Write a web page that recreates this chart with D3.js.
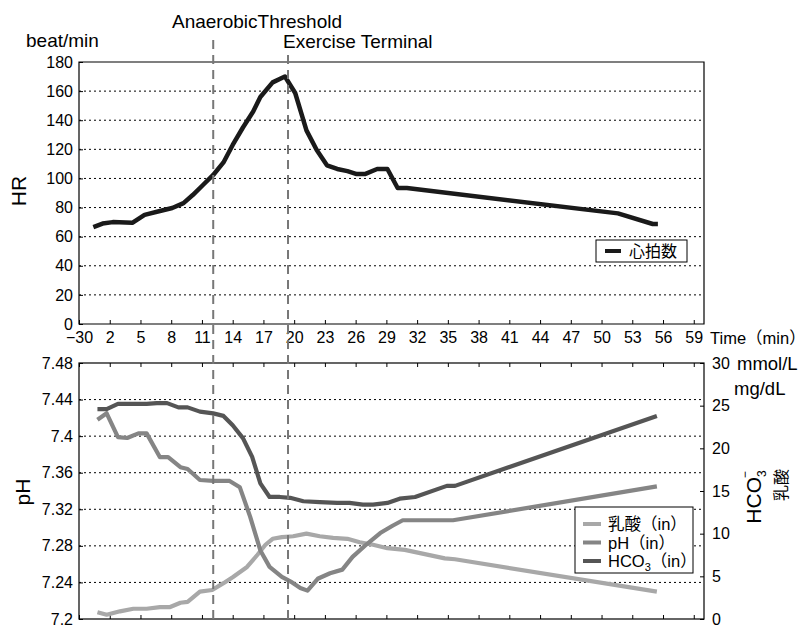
<!DOCTYPE html>
<meta charset="utf-8">
<script src="https://d3js.org/d3.v7.min.js"></script>
<style>
  body { margin: 0; background: #fff; }
  text { font-family: "Liberation Sans", Arial, "Noto Sans CJK JP", sans-serif; fill: #000; }
  .cjk { font-family: "Liberation Sans", "Noto Sans CJK JP", sans-serif; }
</style>
<div id="chart"></div>
<script>

// ---- data ----
var xTicks = [-1, 2, 5, 8, 11, 14, 17, 20, 23, 26, 29, 32, 35, 38, 41, 44, 47, 50, 53, 56, 59];
var xTickLabels = ["\u221230", "2", "5", "8", "11", "14", "17", "20", "23", "26", "29", "32", "35", "38", "41", "44", "47", "50", "53", "56", "59"];
var hrTicks = [0, 20, 40, 60, 80, 100, 120, 140, 160, 180];
var phTicks = [7.2, 7.24, 7.28, 7.32, 7.36, 7.4, 7.44, 7.48];
var rightTicks = [0, 5, 10, 15, 20, 25, 30];

var atTime = 12.1;   // anaerobic threshold
var etTime = 19.4;   // exercise terminal

var hrTime  = [0.4, 1.3, 2.3, 4.2, 5.4, 6.9, 8.1, 9.2, 10.1, 11.1, 12.1, 13.1, 14.0, 15.0, 16.0, 16.7, 17.9, 19.1, 20.1, 21.2, 22.2, 23.2, 24.2, 25.2, 26.1, 26.9, 28.1, 29.1, 30.1, 31.0, 51.6, 55.0, 55.5];
var hrValue = [66.6, 69, 70, 69.5, 75, 77.6, 79.7, 83, 88.6, 95.5, 102.4, 111, 123, 135, 146, 156, 166, 170, 158.7, 133, 119.5, 109, 106.5, 105, 103, 103, 106.5, 106.5, 93.4, 93.4, 76, 68.7, 68.7];

var phTime  = [0.8, 1.7, 2.8, 3.7, 4.8, 5.6, 6.9, 7.7, 8.9, 9.6, 10.8, 12.1, 13.7, 14.7, 15.7, 16.7, 17.6, 18.8, 19.8, 20.6, 21.3, 22.3, 23.5, 24.7, 25.7, 27.1, 28.4, 29.6, 30.6, 35.5, 55.4];
var phValue = [7.418, 7.425, 7.399, 7.398, 7.403, 7.403, 7.377, 7.377, 7.366, 7.364, 7.352, 7.351, 7.351, 7.344, 7.312, 7.275, 7.257, 7.246, 7.240, 7.234, 7.231, 7.244, 7.250, 7.254, 7.268, 7.282, 7.294, 7.302, 7.308, 7.308, 7.345];

var hco3Time  = [0.8, 1.7, 2.8, 4.3, 5.6, 6.6, 7.6, 8.7, 9.6, 10.8, 12.1, 13.1, 14.0, 15.0, 15.9, 16.7, 17.6, 18.6, 19.6, 20.9, 22.5, 24.2, 25.4, 26.7, 27.7, 29.1, 30.3, 31.8, 34.9, 35.7, 55.4];
var hco3Value = [24.6, 24.6, 25.2, 25.2, 25.2, 25.3, 25.3, 24.8, 24.8, 24.3, 24.1, 23.8, 22.7, 21.2, 19.0, 15.9, 14.3, 14.3, 14.2, 13.8, 13.7, 13.6, 13.6, 13.4, 13.4, 13.6, 14.1, 14.3, 15.6, 15.6, 23.8];

var lacTime  = [0.8, 1.7, 3.0, 4.3, 5.6, 6.9, 7.9, 8.9, 9.6, 10.8, 12.0, 13.1, 14.0, 15.4, 16.4, 17.2, 17.9, 18.8, 19.9, 21.2, 22.5, 23.8, 25.2, 26.4, 27.7, 29.1, 30.8, 34.7, 35.7, 55.4];
var lacValue = [0.8, 0.5, 0.9, 1.2, 1.2, 1.4, 1.4, 1.9, 2.0, 3.2, 3.4, 4.2, 4.9, 6.1, 7.5, 8.7, 9.4, 9.6, 9.7, 10.0, 9.7, 9.5, 9.4, 9.0, 8.7, 8.3, 8.1, 7.1, 7.0, 3.2];

var seriesNames = ["乳酸（in）", "pH（in）", "HCO3（in）"];
var colHR = "#1a1a1a", colLac = "#a8a8a8", colPH = "#858585", colHCO3 = "#555555";

// ---- layout ----
var svg = d3.select("#chart").append("svg")
    .attr("width", 806).attr("height", 625);

var x = d3.scaleLinear().domain([-1, 60]).range([79, 704]);
var yHR = d3.scaleLinear().domain([0, 180]).range([324, 62]);
var yPH = d3.scaleLinear().domain([7.2, 7.48]).range([619, 363]);
var yR  = d3.scaleLinear().domain([0, 30]).range([619, 363]);

function zip(t, v) { return t.map(function(d, i) { return [d, v[i]]; }); }

// ---- top panel ----
var gTop = svg.append("g");

gTop.selectAll(".gridHR").data(hrTicks.filter(function(d){ return d > 0 && d < 180; }))
  .enter().append("line")
    .attr("x1", x(-1)).attr("x2", x(60))
    .attr("y1", function(d){ return yHR(d); }).attr("y2", function(d){ return yHR(d); })
    .attr("stroke", "#000").attr("stroke-width", 1).attr("stroke-dasharray", "2,3");

gTop.append("g")
    .attr("transform", "translate(0," + yHR(0) + ")")
    .call(d3.axisBottom(x).tickValues(xTicks).tickSizeInner(-4).tickSizeOuter(0).tickPadding(8)
      .tickFormat(function(d, i){ return xTickLabels[i]; }));
gTop.append("g")
    .attr("transform", "translate(" + x(-1) + ",0)")
    .call(d3.axisLeft(yHR).tickValues(hrTicks).tickSizeInner(-4).tickSizeOuter(0).tickPadding(6));

// box border
gTop.append("path")
  .attr("d", "M" + x(-1) + "," + yHR(180) + "H" + x(60) + "V" + yHR(0) + "H" + x(-1) + "Z")
  .attr("fill", "none").attr("stroke", "#000").attr("stroke-width", 1.2);

gTop.append("path")
  .datum(zip(hrTime, hrValue))
  .attr("fill", "none").attr("stroke", colHR).attr("stroke-width", 4.5)
  .attr("stroke-linejoin", "round")
  .attr("d", d3.line().x(function(d){ return x(d[0]); }).y(function(d){ return yHR(d[1]); }));

// legend (top)
gTop.append("rect").attr("x", 596).attr("y", 240).attr("width", 91).attr("height", 22)
  .attr("fill", "#fff").attr("stroke", "#000").attr("stroke-width", 1);
gTop.append("line").attr("x1", 605).attr("x2", 621).attr("y1", 251).attr("y2", 251)
  .attr("stroke", colHR).attr("stroke-width", 4);
gTop.append("text").attr("class", "cjk").attr("x", 629).attr("y", 257)
  .style("font-size", "16px").text("心拍数");

// ---- bottom panel ----
var gBot = svg.append("g");

gBot.selectAll(".gridPH").data(phTicks.filter(function(d){ return d > 7.21 && d < 7.47; }))
  .enter().append("line")
    .attr("x1", x(-1)).attr("x2", x(60))
    .attr("y1", function(d){ return yPH(d); }).attr("y2", function(d){ return yPH(d); })
    .attr("stroke", "#000").attr("stroke-width", 1).attr("stroke-dasharray", "2,3");

gBot.append("g")
    .attr("transform", "translate(0," + yPH(7.48) + ")")
    .call(d3.axisTop(x).tickValues(xTicks).tickSizeInner(-4).tickSizeOuter(0).tickFormat(""));
gBot.append("g")
    .attr("transform", "translate(0," + yPH(7.2) + ")")
    .call(d3.axisBottom(x).tickValues(xTicks).tickSizeInner(-4).tickSizeOuter(0).tickFormat(""));
gBot.append("g")
    .attr("transform", "translate(" + x(-1) + ",0)")
    .call(d3.axisLeft(yPH).tickValues(phTicks).tickSizeInner(-4).tickSizeOuter(0).tickPadding(6)
      .tickFormat(function(d){ return String(+d.toFixed(2)); }));
gBot.append("g")
    .attr("transform", "translate(" + x(60) + ",0)")
    .call(d3.axisRight(yR).tickValues(rightTicks).tickSizeInner(-4).tickSizeOuter(0).tickPadding(8));

gBot.append("rect")
  .attr("x", x(-1)).attr("y", yPH(7.48)).attr("width", x(60) - x(-1)).attr("height", yPH(7.2) - yPH(7.48))
  .attr("fill", "none").attr("stroke", "#000").attr("stroke-width", 1.2);

var lineR = d3.line().x(function(d){ return x(d[0]); }).y(function(d){ return yR(d[1]); });
var linePH = d3.line().x(function(d){ return x(d[0]); }).y(function(d){ return yPH(d[1]); });

gBot.append("path").datum(zip(lacTime, lacValue))
  .attr("fill", "none").attr("stroke", colLac).attr("stroke-width", 4.2).attr("stroke-linejoin", "round")
  .attr("d", lineR);
gBot.append("path").datum(zip(phTime, phValue))
  .attr("fill", "none").attr("stroke", colPH).attr("stroke-width", 4.2).attr("stroke-linejoin", "round")
  .attr("d", linePH);
gBot.append("path").datum(zip(hco3Time, hco3Value))
  .attr("fill", "none").attr("stroke", colHCO3).attr("stroke-width", 4.2).attr("stroke-linejoin", "round")
  .attr("d", lineR);

// legend (bottom)
gBot.append("rect").attr("x", 575).attr("y", 507).attr("width", 118).attr("height", 66)
  .attr("fill", "#fff").attr("stroke", "#000").attr("stroke-width", 1);
var legCols = [colLac, colPH, colHCO3];
legCols.forEach(function(c, i) {
  var yy = 524 + i * 18.5;
  gBot.append("line").attr("x1", 583).attr("x2", 601).attr("y1", yy).attr("y2", yy)
    .attr("stroke", c).attr("stroke-width", 4);
  var t = gBot.append("text").attr("class", "cjk").attr("x", 608).attr("y", yy + 6).style("font-size", "16.5px");
  if (i === 2) {
    t.append("tspan").text("HCO");
    t.append("tspan").attr("dy", 4).style("font-size", "11px").text("3");
    t.append("tspan").attr("dy", -4).text("（in）");
  } else {
    t.text(seriesNames[i]);
  }
});

// ---- axis fonts ----
svg.selectAll(".tick text").style("font-size", "16px").attr("fill", "#000")
  .style("font-family", "'Liberation Sans', Arial, sans-serif");
svg.selectAll(".domain").remove();
svg.selectAll(".tick line").attr("stroke", "#000");

// ---- vertical markers ----
svg.append("line").attr("x1", x(atTime)).attr("x2", x(atTime)).attr("y1", 40).attr("y2", 619)
  .attr("stroke", "#777").attr("stroke-width", 2).attr("stroke-dasharray", "9,6");
svg.append("line").attr("x1", x(etTime)).attr("x2", x(etTime)).attr("y1", 55).attr("y2", 619)
  .attr("stroke", "#777").attr("stroke-width", 2).attr("stroke-dasharray", "9,6");

// ---- labels ----
svg.append("text").attr("x", 172).attr("y", 28).style("font-size", "19px").text("AnaerobicThreshold");
svg.append("text").attr("x", 283).attr("y", 48).style("font-size", "19px").text("Exercise Terminal");
svg.append("text").attr("x", 26).attr("y", 47).style("font-size", "19px").text("beat/min");
svg.append("text").attr("class", "cjk").attr("x", 710).attr("y", 344).style("font-size", "16.5px").text("Time（min）");
svg.append("text").attr("x", 737).attr("y", 370).style("font-size", "18.5px").text("mmol/L");
svg.append("text").attr("x", 734).attr("y", 395).style("font-size", "18.5px").text("mg/dL");

svg.append("text").attr("transform", "translate(26,191) rotate(-90)").attr("text-anchor", "middle")
  .style("font-size", "21px").text("HR");
svg.append("text").attr("transform", "translate(30,492) rotate(-90)").attr("text-anchor", "middle")
  .style("font-size", "21px").text("pH");

var hco = svg.append("text").attr("transform", "translate(761,497) rotate(-90)").attr("text-anchor", "middle")
  .style("font-size", "21px");
hco.append("tspan").text("HCO");
hco.append("tspan").attr("dy", 5).style("font-size", "12px").text("3");
hco.append("tspan").attr("dx", -8).attr("dy", -17).style("font-size", "12px").text("\u2212");
svg.append("text").attr("class", "cjk").attr("transform", "translate(787,485) rotate(-90)").attr("text-anchor", "middle")
  .style("font-size", "16px").text("乳酸");

</script>
